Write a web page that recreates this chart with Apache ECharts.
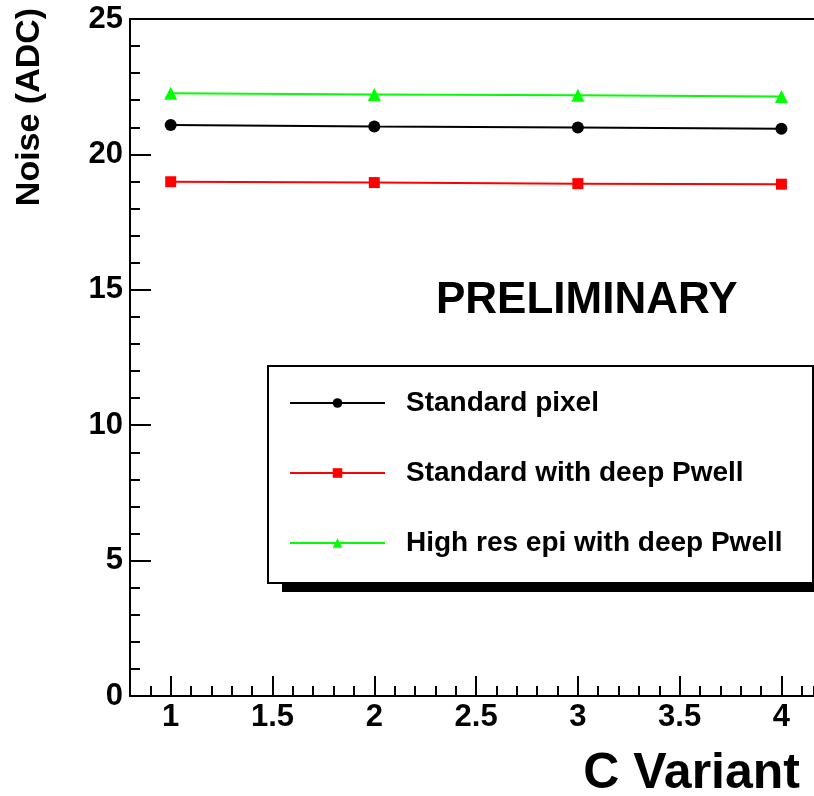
<!DOCTYPE html>
<html>
<head>
<meta charset="utf-8">
<script src="https://cdn.jsdelivr.net/npm/echarts@6/dist/echarts.min.js"></script>
<style>
  html, body { margin: 0; padding: 0; background: #fff; }
  #chart { width: 814px; height: 796px; }
</style>
</head>
<body>
<div id="chart"></div>
<script>
// C variant on the x axis, noise in ADC counts on the y axis
const variants = [1, 2, 3, 4];
const standardPixel = [21.09, 21.03, 20.99, 20.95];
const standardDeepPwell = [18.99, 18.96, 18.92, 18.90];
const highResDeepPwell = [22.26, 22.21, 22.18, 22.14];

const seriesNames = ['Standard pixel', 'Standard with deep Pwell', 'High res epi with deep Pwell'];
const xMajorTicks = [1, 1.5, 2, 2.5, 3, 3.5, 4];

const FONT = '"Liberation Sans", Arial, Helvetica, sans-serif';
const X_MIN = 0.8;
const X_MAX = 4.16;

function pairs(values) {
  return variants.map((x, i) => [x, values[i]]);
}

function lineSeries(name, values, color, symbol, size) {
  return {
    name: name,
    type: 'line',
    xAxisIndex: 0,
    data: pairs(values),
    symbol: symbol,
    symbolSize: size,
    itemStyle: { color: color },
    lineStyle: { color: color, width: 2 }
  };
}

const chart = echarts.init(document.getElementById('chart'));

chart.setOption({
  animation: false,
  grid: { left: 130, right: 0, top: 19, bottom: 100 },
  xAxis: [{
    // minor ticks every 0.1
    type: 'value',
    min: X_MIN, max: X_MAX, interval: 0.1,
    position: 'bottom',
    axisLine: { show: true, lineStyle: { color: '#000', width: 2 } },
    axisTick: { inside: true, length: 10, lineStyle: { color: '#000', width: 2 } },
    axisLabel: { show: false },
    splitLine: { show: false }
  }, {
    // major ticks and labels
    type: 'value',
    min: X_MIN, max: X_MAX,
    position: 'bottom',
    axisLine: { show: false },
    axisTick: { inside: true, length: 20, customValues: xMajorTicks, lineStyle: { color: '#000', width: 2 } },
    axisLabel: {
      customValues: xMajorTicks,
      formatter: (v) => String(v),
      color: '#000', fontFamily: FONT, fontWeight: 'bold', fontSize: 31, margin: 6
    },
    splitLine: { show: false }
  }, {
    // top frame line
    type: 'value',
    min: X_MIN, max: X_MAX,
    position: 'top',
    axisLine: { show: true, lineStyle: { color: '#000', width: 2 } },
    axisTick: { show: false },
    axisLabel: { show: false },
    splitLine: { show: false }
  }],
  yAxis: {
    type: 'value',
    min: 0, max: 25, interval: 5,
    axisLine: { show: true, lineStyle: { color: '#000', width: 2 } },
    axisTick: { inside: true, length: 21, lineStyle: { color: '#000', width: 2 } },
    minorTick: { show: true, splitNumber: 5, length: 10, lineStyle: { color: '#000', width: 2 } },
    axisLabel: { color: '#000', fontFamily: FONT, fontWeight: 'bold', fontSize: 31, margin: 7 },
    splitLine: { show: false }
  },
  legend: {
    data: seriesNames,
    orient: 'vertical',
    left: 289, top: 389,
    padding: 0,
    itemWidth: 95, itemHeight: 12, itemGap: 42,
    textStyle: {
      color: '#000', fontFamily: FONT, fontWeight: 'bold', fontSize: 28,
      padding: [0, 0, 0, 16]
    }
  },
  graphic: [
    // legend box with its drop shadow
    { type: 'rect', z: 0, shape: { x: 282, y: 376, width: 560, height: 216 }, style: { fill: '#000' } },
    { type: 'rect', z: 1, shape: { x: 268, y: 366, width: 545, height: 217 }, style: { fill: '#fff', stroke: '#000', lineWidth: 2 } },
    {
      type: 'text', x: 436, y: 301, z: 5,
      style: { text: 'PRELIMINARY', fill: '#000', font: 'bold 44px ' + FONT, verticalAlign: 'middle' }
    },
    {
      type: 'text', x: 800, y: 774, z: 5,
      style: { text: 'C Variant', fill: '#000', font: 'bold 50px ' + FONT, align: 'right', verticalAlign: 'middle' }
    },
    {
      type: 'text', x: 30, y: 107, rotation: Math.PI / 2, z: 5,
      style: { text: 'Noise (ADC)', fill: '#000', font: 'bold 34px ' + FONT, align: 'center', verticalAlign: 'middle' }
    }
  ],
  series: [
    lineSeries(seriesNames[0], standardPixel, '#000000', 'circle', 12),
    lineSeries(seriesNames[1], standardDeepPwell, '#ff0000', 'rect', 11),
    lineSeries(seriesNames[2], highResDeepPwell, '#00ff00', 'triangle', 13)
  ]
});
</script>
</body>
</html>
